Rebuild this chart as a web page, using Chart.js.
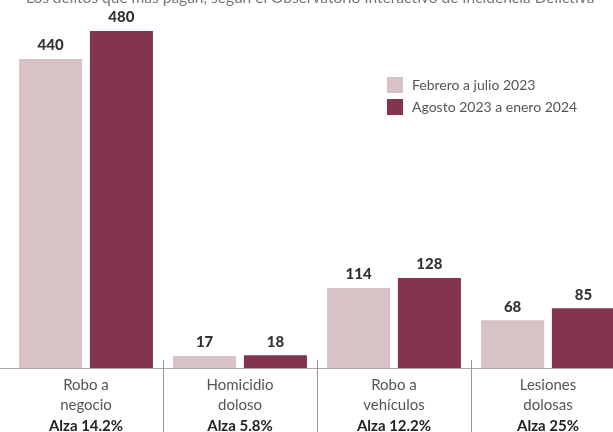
<!DOCTYPE html>
<html>
<head>
<meta charset="utf-8">
<script src="https://cdn.jsdelivr.net/npm/chart.js@4.4.1/dist/chart.umd.min.js"></script>
<style>
  html, body { margin: 0; padding: 0; background: #fff; overflow: hidden; }
  #wrap { position: relative; width: 634px; height: 432px; }
  #sub { position: absolute; top: -12px; left: 26px; white-space: nowrap;
         font: 15.5px Lato, sans-serif; color: #777; }
</style>
</head>
<body>
<div id="wrap">
  <canvas id="chart" width="634" height="432"></canvas>
  <div id="sub">Los delitos que más pagan, según el Observatorio Interactivo de Incidencia Delictiva</div>
</div>
<script>
// categorías (dos líneas) y variación
const categories = [['Robo a', 'negocio'], ['Homicidio', 'doloso'], ['Robo a', 'vehículos'], ['Lesiones', 'dolosas']];
const alza = ['Alza 14.2%', 'Alza 5.8%', 'Alza 12.2%', 'Alza 25%'];
const seriesNames = ['Febrero a julio 2023', 'Agosto 2023 a enero 2024'];
const feb23 = [440, 17, 114, 68];
const ago23 = [480, 18, 128, 85];
const colors = ['#d8c2c6', '#83354f'];

const extras = {
  id: 'extras',
  afterDatasetsDraw(chart) {
    const ctx = chart.ctx;
    const x = chart.scales.x;
    const area = chart.chartArea;
    ctx.save();

    // valores sobre las barras
    ctx.font = '900 15px Lato, sans-serif';
    ctx.fillStyle = '#333';
    ctx.textAlign = 'center';
    ctx.textBaseline = 'bottom';
    chart.data.datasets.forEach((ds, di) => {
      chart.getDatasetMeta(di).data.forEach((bar, i) => {
        ctx.fillText(ds.data[i], bar.x, bar.y - 6);
      });
    });

    // línea base
    ctx.strokeStyle = '#aaa';
    ctx.lineWidth = 1;
    ctx.beginPath();
    ctx.moveTo(0, area.bottom + 0.5);
    ctx.lineTo(chart.width, area.bottom + 0.5);
    ctx.stroke();

    // separadores entre categorías
    ctx.strokeStyle = '#999';
    for (let i = 1; i < categories.length; i++) {
      const sx = Math.round((x.getPixelForValue(i - 1) + x.getPixelForValue(i)) / 2) + 0.5;
      ctx.beginPath();
      ctx.moveTo(sx, area.bottom - 8);
      ctx.lineTo(sx, chart.height);
      ctx.stroke();
    }

    // etiquetas de categoría
    categories.forEach((lines, i) => {
      const cx = x.getPixelForValue(i);
      ctx.textBaseline = 'middle';
      ctx.font = '15px Lato, sans-serif';
      ctx.fillStyle = '#555';
      ctx.fillText(lines[0], cx, area.bottom + 17);
      ctx.fillText(lines[1], cx, area.bottom + 37);
      ctx.font = 'bold 15px Lato, sans-serif';
      ctx.fillStyle = '#222';
      ctx.fillText(alza[i], cx, area.bottom + 58);
    });

    // leyenda
    ctx.textAlign = 'left';
    ctx.font = '14px Lato, sans-serif';
    seriesNames.forEach((name, i) => {
      const ly = 77 + i * 22;
      ctx.fillStyle = colors[i];
      ctx.fillRect(387, ly, 16, 16);
      ctx.fillStyle = '#555';
      ctx.fillText(name, 412, ly + 8);
    });
    ctx.restore();
  }
};

new Chart(document.getElementById('chart'), {
  type: 'bar',
  data: {
    labels: categories,
    datasets: [
      { label: seriesNames[0], data: feb23, backgroundColor: colors[0] },
      { label: seriesNames[1], data: ago23, backgroundColor: colors[1] }
    ]
  },
  options: {
    responsive: false,
    animation: false,
    layout: { padding: { left: 9, right: 9, top: 0, bottom: 64 } },
    datasets: { bar: { categoryPercentage: 0.92, barPercentage: 0.89 } },
    plugins: { legend: { display: false }, tooltip: { enabled: false } },
    scales: {
      x: { display: false },
      y: { display: false, min: 0, max: 524 }
    }
  },
  plugins: [extras]
});
</script>
</body>
</html>
